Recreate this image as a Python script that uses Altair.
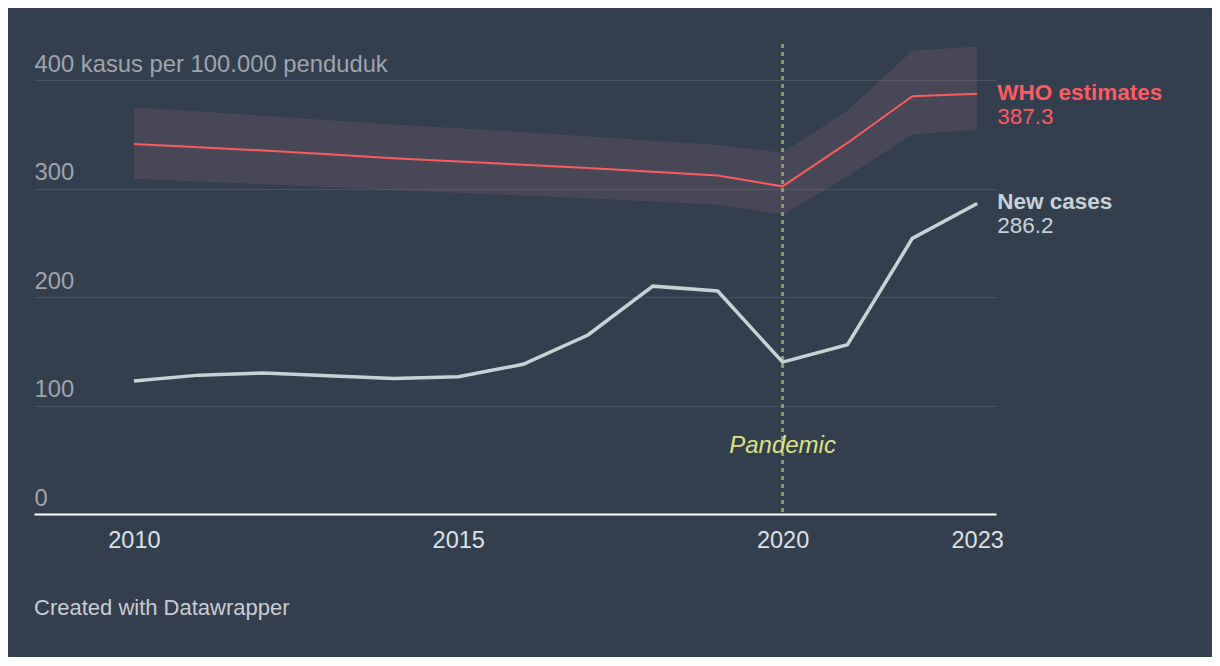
import altair as alt
import pandas as pd

# ---- data ----
years = list(range(2010, 2024))
new_cases = [122.5, 128, 130, 127.5, 125, 126.5, 138, 165, 210, 205.5, 140, 156, 254, 286.2]
who_est = [341, 338, 335, 331.5, 328, 325, 322, 319, 315.5, 312, 302, 342, 385, 387.3]
who_hi = [375, 371, 367, 363, 359, 355.5, 352, 348, 344, 340, 333, 372, 427, 431]
who_lo = [309, 306.5, 304, 301.5, 298.5, 296, 293.5, 291, 288, 285, 276, 311, 350, 354]
x_ticks = [2010, 2015, 2020, 2023]
y_ticks = [0, 100, 200, 300, 400]
y_unit_label = "400 kasus per 100.000 penduduk"
series_names = ["WHO estimates", "New cases"]
event_year = [2020]
event_label = ["Pandemic"]
footer = "Created with Datawrapper"

# ---- styles ----
BG = "#333e4e"
RED = "#ff5a60"
GREY = "#c5d3d6"
FONT = "Liberation Sans"

df = pd.DataFrame({"year": years, "new": new_cases, "who": who_est,
                   "hi": who_hi, "lo": who_lo})
ends = pd.DataFrame({
    "year": [years[-1], years[-1]],
    "value": [who_est[-1], new_cases[-1]],
    "name": series_names,
    "label": [f"{who_est[-1]:.1f}", f"{new_cases[-1]:.1f}"],
})
events = pd.DataFrame({"year": event_year, "label": event_label})

xscale = alt.Scale(domain=[2008.46, 2023.29], nice=False, zero=False)
yscale = alt.Scale(domain=[0, 433.2], nice=False)
cscale = alt.Scale(domain=series_names, range=[RED, GREY])

xaxis = alt.Axis(values=x_ticks, format="d", title=None, ticks=False,
                 grid=False, labelFlush=False, labelPadding=14,
                 labelFontSize=23.5, labelColor="#dde1e5", labelFont=FONT,
                 domainColor="#ffffff", domainWidth=2)
yaxis = alt.Axis(values=y_ticks, title=None, ticks=False, tickSize=0,
                 domain=False, labelAlign="left", labelPadding=0,
                 labelBaseline="alphabetic", labelOffset=-9, labelLimit=600,
                 labelFontSize=23.8, labelColor="#9ea5ad", labelFont=FONT,
                 labelExpr=f"datum.value == 400 ? '{y_unit_label}' : (datum.value == 0 ? '0' : datum.label)",
                 gridColor="#4a5361", gridWidth=1.2)

base = alt.Chart(df)

band = base.mark_area(color="#a07080", opacity=0.2).encode(
    x=alt.X("year:Q", scale=xscale, axis=xaxis),
    y=alt.Y("lo:Q", scale=yscale, axis=yaxis),
    y2="hi:Q",
)

rule = alt.Chart(events).mark_rule(color="#8f9a6b", strokeWidth=3,
                                   strokeDash=[4, 4]).encode(
    x=alt.X("year:Q", scale=xscale)
)

who_line = base.mark_line(color=RED, strokeWidth=2).encode(
    x=alt.X("year:Q", scale=xscale), y=alt.Y("who:Q", scale=yscale))

new_line = base.mark_line(color=GREY, strokeWidth=3.5).encode(
    x=alt.X("year:Q", scale=xscale), y=alt.Y("new:Q", scale=yscale))

name_text = alt.Chart(ends).mark_text(align="left", baseline="alphabetic",
                                      dx=20, dy=6, fontSize=22.5,
                                      fontWeight="bold", font=FONT).encode(
    x=alt.X("year:Q", scale=xscale), y=alt.Y("value:Q", scale=yscale),
    text="name:N", color=alt.Color("name:N", scale=cscale, legend=None))

value_text = alt.Chart(ends).mark_text(align="left", baseline="alphabetic",
                                       dx=20, dy=30, fontSize=22.5,
                                       font=FONT).encode(
    x=alt.X("year:Q", scale=xscale), y=alt.Y("value:Q", scale=yscale),
    text="label:N", color=alt.Color("name:N", scale=cscale, legend=None))

event_text = alt.Chart(events).mark_text(align="center", baseline="alphabetic",
                                         fontSize=24, fontStyle="italic",
                                         color="#dbe47c", font=FONT).encode(
    x=alt.X("year:Q", scale=xscale), y=alt.value(409), text="label:N")

chart = alt.layer(band, rule, who_line, new_line, name_text, value_text,
                  event_text).properties(
    width=962, height=470,
    autosize=alt.AutoSizeParams(type="none"),
    padding={"left": 26, "top": 36, "right": 216, "bottom": 143},
    background=BG,
    title=alt.TitleParams(footer, orient="bottom", anchor="start",
                          fontSize=22, fontWeight="normal", color="#c9cdd1",
                          font=FONT, offset=46),
).configure_view(stroke=None)

chart.save("out.html", embed_options={"renderer": "svg", "actions": False})
